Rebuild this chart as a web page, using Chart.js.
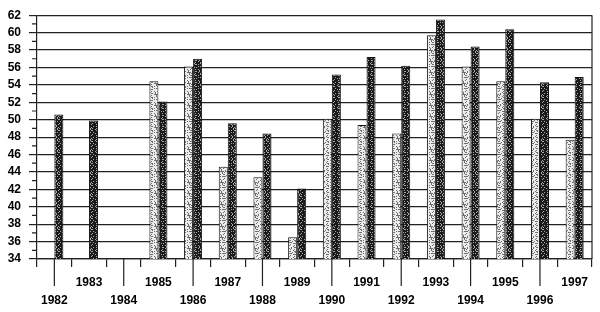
<!DOCTYPE html>
<html>
<head>
<meta charset="utf-8">
<script src="https://cdn.jsdelivr.net/npm/chart.js@4/dist/chart.umd.min.js"></script>
<style>
    body { margin: 0; background: #ffffff; }
    canvas { display: block; }
</style>
</head>
<body>
<canvas id="years_chart" width="600" height="312"></canvas>
<script>
const years = [1982, 1983, 1984, 1985, 1986, 1987, 1988, 1989, 1990, 1991, 1992, 1993, 1994, 1995, 1996, 1997];
const lightValues = [null, null, null, 54.4, 56.1, 44.6, 43.4, 36.5, 50.1, 49.4, 48.4, 59.7, 56.1, 54.4, 50.1, 47.7];
const darkValues = [50.6, 49.9, null, 52.1, 57.0, 49.6, 48.4, 42.1, 55.2, 57.2, 56.2, 61.5, 58.4, 60.4, 54.3, 54.9];
const yMin = 34;
const yMax = 62;

// small repeating speckle tile, like the scanned bar fill
function stipple(bg, dot, share) {
    let n = 11;
    let tile = document.createElement('canvas');
    tile.width = n;
    tile.height = n;
    let g = tile.getContext('2d');
    g.fillStyle = bg;
    g.fillRect(0, 0, n, n);
    g.fillStyle = dot;
    for (let i = 0; i < n; i++) {
        for (let j = 0; j < n; j++) {
            let h = (i * 37 + j * 91 + i * j * 13 + i * i * 7) % 17;
            if (h < share) g.fillRect(i, j, 1, 1);
        }
    }
    return g.createPattern(tile, 'repeat');
}

// right border, minor y ticks and the long ticks under the even years
const axisExtras = {
    id: 'axisExtras',
    afterDraw(chart) {
        let c = chart.ctx, a = chart.chartArea, x = chart.scales.x, y = chart.scales.y;
        c.save();
        c.strokeStyle = '#222';
        c.lineWidth = 1.2;
        c.beginPath();
        c.moveTo(a.right, a.top);
        c.lineTo(a.right, a.bottom);
        for (let v = yMin + 1; v < yMax; v += 2) {
            let py = y.getPixelForValue(v);
            c.moveTo(a.left - 5, py);
            c.lineTo(a.left, py);
        }
        years.forEach((yr, i) => {
            if (yr % 2 === 0) {
                let px = x.getPixelForValue(i);
                c.moveTo(px, a.bottom);
                c.lineTo(px, a.bottom + 27);
            }
        });
        c.stroke();
        c.restore();
    }
};

let years_chart = document.getElementById('years_chart').getContext('2d');
new Chart(years_chart, {
    type: 'bar',
    data: {
        labels: years,
        datasets: [
            {
                label: 'A',
                data: lightValues,
                backgroundColor: stipple('#ececec', '#6e6e6e', 6),
                borderColor: '#111',
                borderWidth: 1,
            },
            {
                label: 'B',
                data: darkValues,
                backgroundColor: stipple('#1a1a1a', '#a8a8a8', 4),
                borderColor: '#111',
                borderWidth: 1,
            }
        ],
    },
    plugins: [axisExtras],
    options: {
        responsive: false,
        animation: false,
        categoryPercentage: 0.52,
        barPercentage: 1,
        layout: {
            padding: {top: 8, right: 8, left: 0, bottom: 0}
        },
        plugins: {
            legend: {display: false},
            tooltip: {enabled: false}
        },
        scales: {
            x: {
                afterFit: function (scale) { scale.height = 53; },
                grid: {
                    drawOnChartArea: false,
                    tickLength: 8,
                    color: '#222',
                    lineWidth: 1.2
                },
                border: {color: '#222', width: 1.2},
                ticks: {
                    autoSkip: false,
                    maxRotation: 0,
                    padding: 7,
                    color: '#000',
                    font: {family: 'Liberation Sans', size: 12, weight: 'bold', lineHeight: 1.5},
                    // odd years on the upper row, even years one line lower
                    callback: function (value, index) {
                        let yr = years[index];
                        return yr % 2 === 0 ? ['', String(yr)] : String(yr);
                    }
                }
            },
            y: {
                min: yMin,
                max: yMax,
                afterFit: function (scale) { scale.width = 37; },
                grid: {
                    tickLength: 8,
                    color: '#222',
                    lineWidth: 1.2
                },
                border: {color: '#222', width: 1.2},
                ticks: {
                    stepSize: 2,
                    padding: 8,
                    color: '#000',
                    font: {family: 'Liberation Sans', size: 12, weight: 'bold'}
                }
            }
        }
    }
});
</script>
</body>
</html>
